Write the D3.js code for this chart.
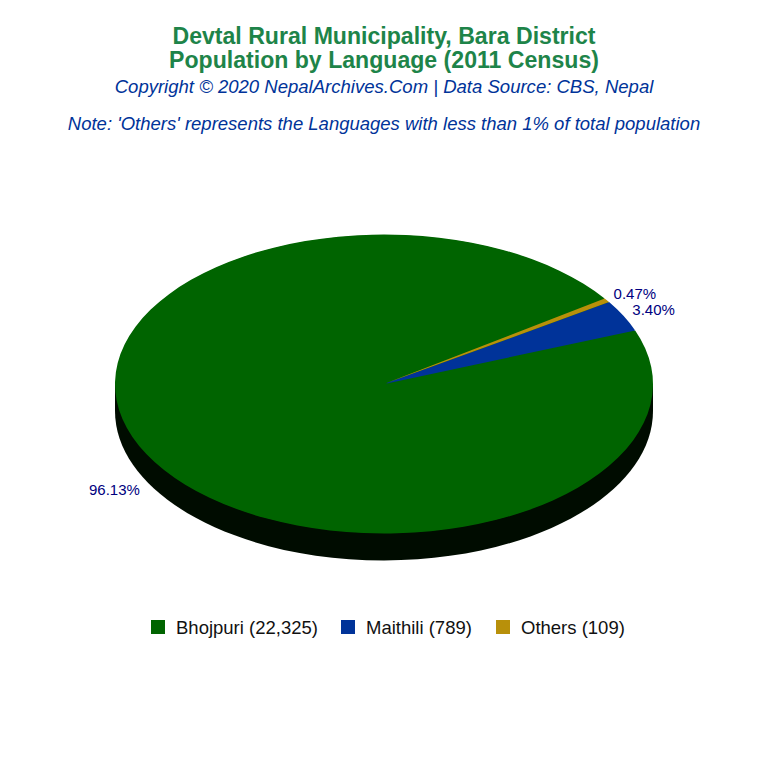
<!DOCTYPE html>
<html>
<head>
<meta charset="utf-8">
<script src="https://cdn.jsdelivr.net/npm/d3@7"></script>
<style>
  html, body { margin: 0; padding: 0; background: #fff; }
  text { font-family: "Liberation Sans", Arial, sans-serif; }
</style>
</head>
<body>
<svg id="chart"></svg>
<script>
// Data
const languages = ["Bhojpuri", "Maithili", "Others"];
const population = [22325, 789, 109];
const percentLabels = ["96.13%", "3.40%", "0.47%"];
const colors = ["#006400", "#003399", "#b8900a"];
const titleLines = ["Devtal Rural Municipality, Bara District", "Population by Language (2011 Census)"];
const subtitle = "Copyright © 2020 NepalArchives.Com | Data Source: CBS, Nepal";
const note = "Note: 'Others' represents the Languages with less than 1% of total population";

const width = 768;
const height = 768;
const cx = 384;
const cy = 384;
const rx = 269;
const ry = 149.5;
const depth = 27;
const tilt = ry / rx;
const labelRadius = 1.13;
const startAngle = 55.1 * Math.PI / 180;

const svg = d3.select("#chart")
  .attr("width", width)
  .attr("height", height)
  .style("display", "block");

// Titles
svg.selectAll(".title")
  .data(titleLines)
  .enter()
  .append("text")
  .attr("class", "title")
  .attr("x", width / 2)
  .attr("y", (d, i) => 44 + i * 24)
  .attr("text-anchor", "middle")
  .attr("font-size", 23.1)
  .attr("font-weight", "bold")
  .attr("fill", "#1e8449")
  .text(d => d);

svg.append("text")
  .attr("x", width / 2)
  .attr("y", 93)
  .attr("text-anchor", "middle")
  .attr("font-size", 18.55)
  .attr("font-style", "italic")
  .attr("fill", "#003399")
  .text(subtitle);

svg.append("text")
  .attr("x", width / 2)
  .attr("y", 130)
  .attr("text-anchor", "middle")
  .attr("font-size", 18.5)
  .attr("font-style", "italic")
  .attr("fill", "#003399")
  .text(note);

// Pie goes counter-clockwise from the start angle
const pie = d3.pie()
  .sort(null)
  .startAngle(startAngle)
  .endAngle(startAngle - 2 * Math.PI);
const slices = pie(population);
// small slices stop a little short of the centre, like the original
const arc = d3.arc()
  .innerRadius(d => d.index === 0 ? 0 : 3)
  .outerRadius(rx);

// Side wall of the tilted pie
const side = d3.path();
side.moveTo(cx - rx, cy);
side.lineTo(cx - rx, cy + depth);
side.bezierCurveTo(cx - rx, cy + depth + ry * 0.5523, cx - rx * 0.5523, cy + depth + ry, cx, cy + depth + ry);
side.bezierCurveTo(cx + rx * 0.5523, cy + depth + ry, cx + rx, cy + depth + ry * 0.5523, cx + rx, cy + depth);
side.lineTo(cx + rx, cy);
side.closePath();
svg.append("path").attr("d", side.toString()).attr("fill", "#000c00");

// Top of the pie
const pieTop = svg.append("g")
  .attr("transform", `translate(${cx},${cy}) scale(1,${tilt})`);
pieTop.append("circle")
  .attr("r", rx - 1)
  .attr("fill", colors[0]);
pieTop.selectAll("path")
  .data(slices)
  .enter()
  .append("path")
  .attr("d", arc)
  .attr("fill", (d, i) => colors[i]);

// Percent labels just outside the rim
const midAngle = d => (d.startAngle + d.endAngle) / 2;
svg.selectAll(".pct")
  .data(slices)
  .enter()
  .append("text")
  .attr("class", "pct")
  .attr("x", d => cx - 1 + Math.sin(midAngle(d)) * rx * labelRadius)
  .attr("y", d => {
    const dy = -Math.cos(midAngle(d)) * ry;
    return cy + dy + (dy > 0 ? depth + 14 : -1);
  })
  .attr("text-anchor", "middle")
  .attr("font-size", 15)
  .attr("fill", "#000080")
  .text((d, i) => percentLabels[i]);

// Legend
const legendText = languages.map((d, i) => `${d} (${d3.format(",")(population[i])})`);
const swatch = 14;
const legendX = d3.scaleOrdinal().domain(languages).range([151, 341, 496]);
const legend = svg.selectAll(".legend")
  .data(languages)
  .enter()
  .append("g")
  .attr("class", "legend")
  .attr("transform", d => `translate(${legendX(d)},620)`);
legend.append("rect")
  .attr("width", swatch)
  .attr("height", swatch)
  .attr("fill", (d, i) => colors[i]);
legend.append("text")
  .attr("x", 25)
  .attr("y", 13.5)
  .attr("font-size", 18.5)
  .attr("fill", "#111")
  .text((d, i) => legendText[i]);
</script>
</body>
</html>
